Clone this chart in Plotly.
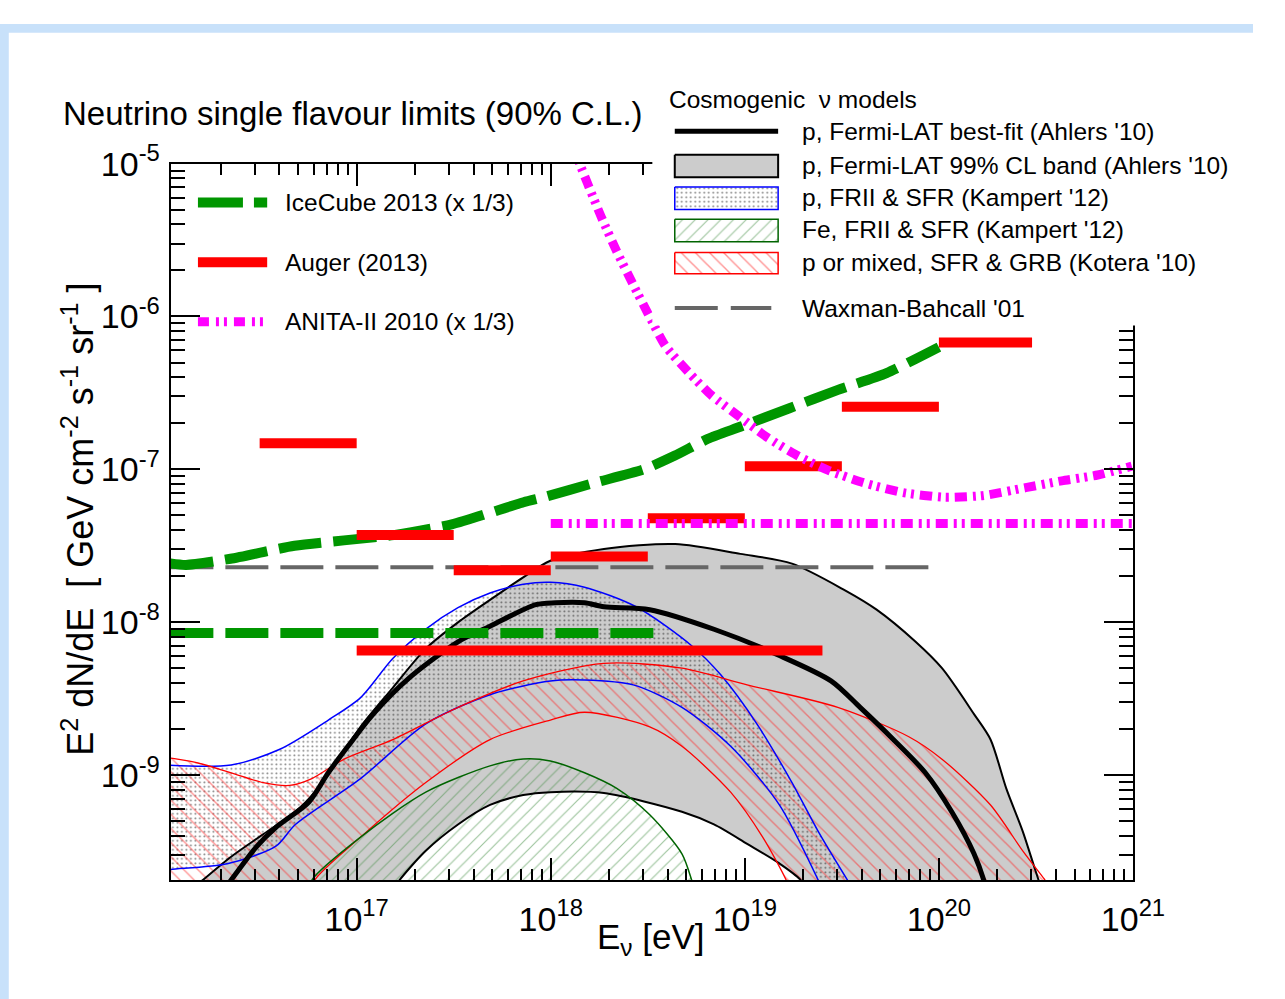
import math
import plotly.graph_objects as go

W, H = 1285, 999
FONT = "Liberation Sans, Arial, sans-serif"

# ---------------------------------------------------------------------------
# Data: energies as log10(E_nu / eV), fluxes as log10(E^2 dN/dE / GeV cm^-2 s^-1 sr^-1)
# ---------------------------------------------------------------------------

# IceCube 2013 differential limit (x 1/3)
icecube_logE = [16.04, 16.12, 16.35, 16.68, 17.19, 17.49, 17.86, 17.97, 18.22, 18.48,
                18.64, 18.81, 18.98, 19.23, 19.48, 19.73, 20.0]
icecube_logF = [-7.615, -7.625, -7.585, -7.50, -7.43, -7.36, -7.215, -7.18, -7.09, -7.00,
                -6.91, -6.80, -6.72, -6.60, -6.48, -6.37, -6.20]
# IceCube 2013 integrated limit (x 1/3)
icecube_int_logE = [16.04, 18.54]
icecube_int_logF = -8.07

# Auger 2013 differential limit (half-decade bins)
auger_lo = [16.5, 17.0, 17.5, 18.0, 18.5, 19.0, 19.5, 20.0]
auger_hi = [17.0, 17.5, 18.0, 18.5, 19.0, 19.5, 20.0, 20.48]
auger_logF = [-6.83, -7.43, -7.66, -7.57, -7.32, -6.98, -6.59, -6.17]
# Auger 2013 integrated limit
auger_int_logE = [17.0, 19.4]
auger_int_logF = -8.185

# ANITA-II 2010 differential limit (x 1/3)
anita_logE = [18.11, 18.149, 18.189, 18.259, 18.340, 18.425, 18.510, 18.591, 18.711, 18.826,
              18.977, 19.112, 19.278, 19.428, 19.614, 19.815, 20.031, 20.231, 20.447, 20.633,
              20.818, 20.994]
anita_logF = [-4.87, -5.00, -5.128, -5.345, -5.574, -5.792, -6.003, -6.193, -6.366, -6.513,
              -6.660, -6.788, -6.915, -7.005, -7.088, -7.152, -7.183, -7.171, -7.120, -7.075,
              -7.037, -6.979]
# ANITA-II 2010 integrated limit (x 1/3)
anita_int_logE = [18.0, 21.0]
anita_int_logF = -7.354

# Waxman-Bahcall bound
wb_logE = [16.04, 20.0]
wb_logF = -7.641

# Ahlers '10, Fermi-LAT best fit
ahlers_best_logE = [16.31, 16.353, 16.483, 16.584, 16.754, 16.854, 16.955, 17.085, 17.271, 17.522,
                    17.687, 17.923, 18.024, 18.174, 18.274, 18.510, 18.841, 19.178, 19.444, 19.594,
                    19.765, 19.930, 20.066, 20.181, 20.231, 20.245]
ahlers_best_logF = [-9.76, -9.687, -9.470, -9.342, -9.176, -8.984, -8.812, -8.601, -8.364, -8.128,
                    -8.026, -7.885, -7.873, -7.873, -7.899, -7.918, -8.046, -8.218, -8.384, -8.557,
                    -8.767, -8.985, -9.240, -9.515, -9.687, -9.76]
# Ahlers '10, 99% CL band
ahlers_up_logE = [16.15, 16.207, 16.353, 16.518, 16.684, 16.784, 16.885, 17.020, 17.186, 17.356,
                  17.522, 17.687, 17.858, 17.998, 18.274, 18.641, 18.977, 19.243, 19.514, 19.679,
                  19.880, 20.016, 20.181, 20.266, 20.347, 20.432, 20.497, 20.53]
ahlers_up_logF = [-9.75, -9.687, -9.534, -9.387, -9.240, -9.112, -8.940, -8.684, -8.429, -8.173,
                  -8.001, -7.854, -7.707, -7.598, -7.521, -7.489, -7.553, -7.617, -7.790, -7.918,
                  -8.128, -8.301, -8.601, -8.767, -9.087, -9.368, -9.623, -9.75]
ahlers_lo_logE = [17.19, 17.221, 17.356, 17.522, 17.687, 17.858, 17.998, 18.274, 18.676, 18.841,
                  19.012, 19.178, 19.288, 19.31]
ahlers_lo_logF = [-9.75, -9.687, -9.495, -9.323, -9.195, -9.131, -9.112, -9.118, -9.240, -9.323,
                  -9.450, -9.578, -9.687, -9.75]

# Kampert '12, protons (FRII & SFR)
kampert_p_up_logE = [16.0, 16.353, 16.604, 16.854, 17.020, 17.186, 17.356, 17.522, 17.687, 17.858,
                     17.998, 18.174, 18.440, 18.726, 18.877, 19.062, 19.243, 19.378, 19.529, 19.56]
kampert_p_up_logF = [-8.934, -8.934, -8.831, -8.640, -8.493, -8.237, -8.045, -7.905, -7.809, -7.752,
                     -7.739, -7.771, -7.899, -8.154, -8.346, -8.665, -9.049, -9.368, -9.687, -9.75]
kampert_p_lo_logE = [16.0, 16.042, 16.333, 16.584, 16.684, 17.020, 17.356, 17.687, 17.998, 18.174,
                     18.425, 18.676, 18.927, 19.178, 19.378, 19.40]
kampert_p_lo_logF = [-9.625, -9.617, -9.580, -9.465, -9.323, -9.023, -8.665, -8.474, -8.384, -8.378,
                     -8.410, -8.557, -8.812, -9.195, -9.687, -9.75]

# Kampert '12, iron (FRII & SFR), upper edge
kampert_fe_up_logE = [16.75, 16.769, 17.020, 17.356, 17.687, 17.858, 17.998, 18.174, 18.340, 18.510,
                      18.676, 18.726, 18.74]
kampert_fe_up_logF = [-9.78, -9.687, -9.406, -9.112, -8.940, -8.895, -8.908, -8.985, -9.087, -9.260,
                      -9.515, -9.687, -9.75]

# Kotera '10, p or mixed (SFR & GRB)
kotera_up_logE = [16.0, 16.042, 16.182, 16.353, 16.518, 16.654, 16.769, 16.935, 17.186, 17.522,
                  17.858, 18.274, 18.676, 19.012, 19.479, 19.845, 20.016, 20.266, 20.432, 20.547,
                  20.585]
kotera_up_logF = [-8.88, -8.889, -8.921, -8.985, -9.049, -9.068, -9.023, -8.896, -8.768, -8.557,
                  -8.384, -8.269, -8.301, -8.410, -8.557, -8.749, -8.896, -9.196, -9.496, -9.687,
                  -9.75]
kotera_lo_logE = [16.76, 16.784, 17.020, 17.356, 17.687, 17.998, 18.174, 18.510, 18.676, 18.927,
                  19.092, 19.213, 19.23]
kotera_lo_logF = [-9.80, -9.687, -9.406, -9.049, -8.768, -8.640, -8.589, -8.685, -8.812, -9.112,
                  -9.406, -9.687, -9.75]

# Tick decades
x_decades = [17, 18, 19, 20, 21]
y_decades = [-9, -8, -7, -6, -5]

FLOOR = -10.0  # below the visible flux range, used to close bands

# Axis ranges (log10)
X_RANGE = [math.log10(1.1e16), 21.0005]
Y_RANGE = [-9.686, -4.9995]

# Plot frame in pixels
PL, PR, PT, PB = 175, 1162, 143, 877


def lin(vals):
    return [10 ** v for v in vals]


def band(up_x, up_y, lo_x=None, lo_y=None):
    """Closed polygon: upper edge left->right, lower edge right->left (or floor)."""
    xs = list(up_x) + [up_x[-1]]
    ys = list(up_y) + [FLOOR]
    if lo_x is not None:
        xs += [lo_x[-1]] + list(reversed(lo_x)) + [lo_x[0]]
        ys += [FLOOR] + list(reversed(lo_y)) + [FLOOR]
    xs += [up_x[0]]
    ys += [FLOOR]
    return xs, ys


def steps(lo, hi, vals):
    xs, ys = [], []
    for a, b, v in zip(lo, hi, vals):
        xs += [10 ** a, 10 ** b, None]
        ys += [10 ** v, 10 ** v, None]
    return xs, ys


fig = go.Figure()


def add_main(**kw):
    kw.setdefault("mode", "lines")
    kw.setdefault("hoverinfo", "skip")
    kw.setdefault("showlegend", False)
    fig.add_trace(go.Scatter(xaxis="x", yaxis="y", **kw))


def add_px(**kw):
    kw.setdefault("mode", "lines")
    kw.setdefault("hoverinfo", "skip")
    kw.setdefault("showlegend", False)
    fig.add_trace(go.Scatter(xaxis="x2", yaxis="y2", **kw))


SMOOTH = dict(shape="spline", smoothing=0.8)
GRAY_FILL = "#cccccc"
DOTS = dict(shape=".", fgcolor="#000000", bgcolor="rgba(0,0,0,0)", size=4.5, solidity=0.15)
GREEN_HATCH = dict(shape="/", fgcolor="#3d8a3d", bgcolor="rgba(0,0,0,0)", size=9, solidity=0.13)
RED_HATCH = dict(shape="\\", fgcolor="#ff2a2a", bgcolor="rgba(0,0,0,0)", size=10, solidity=0.14)
BLUE = "#0000ff"
RED = "#ff0000"
DKGREEN = "#006400"
MAGENTA = "#ff00ff"
ICE_GREEN = "#009600"
WB_GRAY = "#666666"
ANITA_DASH = "12px,6px,3px,5px,3px,6px"

# ---- model bands (fills) ----
bx, by = band(ahlers_up_logE, ahlers_up_logF, ahlers_lo_logE, ahlers_lo_logF)
add_main(x=lin(bx), y=lin(by), fill="toself", fillcolor=GRAY_FILL, line=dict(width=0, **SMOOTH))

bx, by = band(kampert_p_up_logE, kampert_p_up_logF, kampert_p_lo_logE, kampert_p_lo_logF)
add_main(x=lin(bx), y=lin(by), fill="toself", fillcolor="rgba(0,0,0,0)",
         fillpattern=DOTS, line=dict(width=0, **SMOOTH))

bx, by = band(kotera_up_logE, kotera_up_logF, kotera_lo_logE, kotera_lo_logF)
add_main(x=lin(bx), y=lin(by), fill="toself", fillcolor="rgba(0,0,0,0)",
         fillpattern=RED_HATCH, line=dict(width=0, **SMOOTH))

bx, by = band(kampert_fe_up_logE, kampert_fe_up_logF)
add_main(x=lin(bx), y=lin(by), fill="toself", fillcolor="rgba(0,0,0,0)",
         fillpattern=GREEN_HATCH, line=dict(width=0, **SMOOTH))

# ---- model band edges ----
add_main(x=lin(ahlers_up_logE), y=lin(ahlers_up_logF), line=dict(color="black", width=2, **SMOOTH))
add_main(x=lin(ahlers_lo_logE), y=lin(ahlers_lo_logF), line=dict(color="black", width=2, **SMOOTH))
add_main(x=lin(kampert_p_up_logE), y=lin(kampert_p_up_logF), line=dict(color=BLUE, width=1.5, **SMOOTH))
add_main(x=lin(kampert_p_lo_logE), y=lin(kampert_p_lo_logF), line=dict(color=BLUE, width=1.5, **SMOOTH))
add_main(x=lin(kotera_up_logE), y=lin(kotera_up_logF), line=dict(color=RED, width=1.3, **SMOOTH))
add_main(x=lin(kotera_lo_logE), y=lin(kotera_lo_logF), line=dict(color=RED, width=1.3, **SMOOTH))
add_main(x=lin(kampert_fe_up_logE), y=lin(kampert_fe_up_logF), line=dict(color=DKGREEN, width=1.5, **SMOOTH))
add_main(x=lin(ahlers_best_logE), y=lin(ahlers_best_logF), line=dict(color="black", width=5, **SMOOTH))

# ---- experimental limits ----
add_main(x=lin(wb_logE), y=[10 ** wb_logF] * 2,
         line=dict(color=WB_GRAY, width=4, dash="43px,12px"))
add_main(x=lin(icecube_int_logE), y=[10 ** icecube_int_logF] * 2,
         line=dict(color=ICE_GREEN, width=10, dash="43px,12px"))
add_main(x=lin(icecube_logE), y=lin(icecube_logF),
         line=dict(color=ICE_GREEN, width=10, dash="43px,12px", shape="spline", smoothing=0.6))
ax_, ay_ = steps(auger_lo, auger_hi, auger_logF)
add_main(x=ax_, y=ay_, line=dict(color=RED, width=10))
add_main(x=lin(auger_int_logE), y=[10 ** auger_int_logF] * 2, line=dict(color=RED, width=10))
add_main(x=lin(anita_int_logE), y=[10 ** anita_int_logF] * 2,
         line=dict(color=MAGENTA, width=9, dash=ANITA_DASH))
add_main(x=lin(anita_logE), y=lin(anita_logF),
         line=dict(color=MAGENTA, width=9, dash=ANITA_DASH, shape="spline", smoothing=0.6))

# ---- legends (drawn in a pixel-coordinate overlay) ----
add_px(x=[203, 274], y=[183, 183], line=dict(color=ICE_GREEN, width=10, dash="45px,11px"))
add_px(x=[203, 274], y=[244, 244], line=dict(color=RED, width=10))
add_px(x=[203, 274], y=[305, 305], line=dict(color=MAGENTA, width=9, dash="11px,7px,3px,5px,3px,7px"))

# right legend background (covers the frame corner)
add_px(x=[669, 1285, 1285, 669, 669], y=[52, 52, 309, 309, 52], fill="toself",
       fillcolor="white", line=dict(width=0))

LX0, LX1 = 692, 798
add_px(x=[LX0, LX1], y=[110, 110], line=dict(color="black", width=5))


def legend_box(y0, y1, **kw):
    add_px(x=[LX0, LX1, LX1, LX0, LX0], y=[y0, y0, y1, y1, y0], fill="toself", **kw)


legend_box(134, 157, fillcolor=GRAY_FILL, line=dict(color="black", width=2))
legend_box(167, 190, fillcolor="rgba(0,0,0,0)", fillpattern=DOTS, line=dict(color=BLUE, width=1.5))
legend_box(200, 223, fillcolor="rgba(0,0,0,0)", fillpattern=GREEN_HATCH, line=dict(color=DKGREEN, width=1.5))
legend_box(234, 256, fillcolor="rgba(0,0,0,0)", fillpattern=RED_HATCH, line=dict(color=RED, width=1.5))
add_px(x=[LX0, 791], y=[291, 291], line=dict(color=WB_GRAY, width=4, dash="43px,13px"))

# ---- text ----
annotations = []


def text(x, y, s, size=24.5, xanchor="left", angle=0):
    annotations.append(dict(x=x, y=y, xref="x2", yref="y2", text=s, showarrow=False,
                            xanchor=xanchor, yanchor="middle", textangle=angle,
                            font=dict(family=FONT, size=size, color="black")))


text(63, 92, "Neutrino single flavour limits (90% C.L.)", size=33)
text(668, 938, "E<sub>ν</sub> [eV]", size=35, xanchor="center")
text(80, 508, "E<sup>2</sup> dN/dE\u00a0\u00a0[ GeV cm<sup>-2</sup> s<sup>-1</sup> sr<sup>-1</sup> ]",
     size=36, xanchor="center", angle=-90)

text(290, 183, "IceCube 2013 (x 1/3)")
text(290, 244, "Auger (2013)")
text(290, 305, "ANITA-II 2010 (x 1/3)")

text(684, 77, "Cosmogenic\u00a0\u00a0ν models")
text(820, 110, "p, Fermi-LAT best-fit (Ahlers '10)")
text(820, 145, "p, Fermi-LAT 99% CL band (Ahlers '10)")
text(820, 178, "p, FRII & SFR (Kampert '12)")
text(820, 211, "Fe, FRII & SFR (Kampert '12)")
text(820, 244, "p or mixed, SFR & GRB (Kotera '10)")
text(820, 291, "Waxman-Bahcall '01")

# ---- frame decoration ----
shapes = [
    dict(type="rect", xref="x2", yref="y2", x0=0, x1=9, y0=0, y1=H,
         fillcolor="#c8e1fa", line=dict(width=0), layer="below"),
    dict(type="rect", xref="x2", yref="y2", x0=0, x1=W, y0=0, y1=9,
         fillcolor="#c8e1fa", line=dict(width=0), layer="below"),
]


def decade_ticks(decades):
    vals = [10.0 ** d for d in decades]
    labels = ["10<sup>%d</sup>" % d for d in decades]
    return vals, labels


def minor_ticks(lo, hi):
    vals = []
    for d in range(lo, hi):
        vals += [m * 10.0 ** d for m in range(2, 10)]
    return vals


xt_vals, xt_text = decade_ticks(x_decades)
yt_vals, yt_text = decade_ticks(y_decades)

axis_common = dict(
    type="log", showline=True, linecolor="black", linewidth=2, mirror="ticks",
    ticks="inside", tickwidth=2, tickcolor="black", showgrid=False, zeroline=False,
    tickmode="array",
    tickfont=dict(family=FONT, size=34, color="black"),
)

fig.update_layout(
    width=W, height=H,
    margin=dict(l=0, r=0, t=0, b=0),
    paper_bgcolor="white", plot_bgcolor="rgba(0,0,0,0)",
    showlegend=False,
    xaxis=dict(**axis_common, range=X_RANGE, domain=[PL / W, PR / W], anchor="y",
               tickvals=xt_vals, ticktext=xt_text, ticklen=22, ticklabelstandoff=8,
               minor=dict(tickmode="array", tickvals=minor_ticks(16, 21), ticks="inside",
                          ticklen=11, tickwidth=2, tickcolor="black", showgrid=False)),
    yaxis=dict(**axis_common, range=Y_RANGE, domain=[(H - PB) / H, (H - PT) / H], anchor="x",
               tickvals=yt_vals, ticktext=yt_text, ticklen=29, ticklabelstandoff=2,
               minor=dict(tickmode="array", tickvals=minor_ticks(-10, -5), ticks="inside",
                          ticklen=14, tickwidth=2, tickcolor="black", showgrid=False)),
    xaxis2=dict(range=[0, W], domain=[0, 1], anchor="y2", visible=False, fixedrange=True),
    yaxis2=dict(range=[H, 0], domain=[0, 1], anchor="x2", visible=False, fixedrange=True),
    annotations=annotations,
    shapes=shapes,
)

# pin the figure to the window origin with no page margin or scrolling
PAGE_JS = (
    "var pg='margin:0;padding:0;overflow:hidden;width:1285px;height:999px';"
    "document.documentElement.style.cssText=pg;document.body.style.cssText=pg;"
    "var gd=document.getElementById('{plot_id}');"
    "gd.style.position='fixed';gd.style.left='0px';gd.style.top='0px';"
)

fig.write_html("out.html", post_script=PAGE_JS, config={"displayModeBar": False})
